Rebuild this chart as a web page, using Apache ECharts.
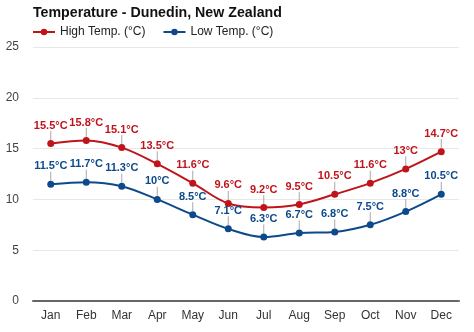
<!DOCTYPE html>
<html>
<head>
<meta charset="utf-8">
<script src="https://cdn.jsdelivr.net/npm/echarts@6/dist/echarts.min.js"></script>
<style>
  html, body { margin: 0; padding: 0; background: #fff; }
  #chart { width: 474px; height: 332px; }
</style>
</head>
<body>
<div id="chart"></div>
<script>
const months = ['Jan', 'Feb', 'Mar', 'Apr', 'May', 'Jun', 'Jul', 'Aug', 'Sep', 'Oct', 'Nov', 'Dec'];
const highTemps = [15.5, 15.8, 15.1, 13.5, 11.6, 9.6, 9.2, 9.5, 10.5, 11.6, 13, 14.7];
const lowTemps = [11.5, 11.7, 11.3, 10, 8.5, 7.1, 6.3, 6.7, 6.8, 7.5, 8.8, 10.5];
const yTicks = [0, 5, 10, 15, 20, 25];

const FONT = '"Liberation Sans", Arial, sans-serif';
// legend marker: a short line with a dot in the middle
const LEGEND_ICON = 'path://M0,3H24V5H0Z M15.5,4A3.5,3.5 0 1 1 8.5,4A3.5,3.5 0 1 1 15.5,4Z';

function tempSeries(name, values, color) {
  return {
    name: name,
    type: 'line',
    data: values,
    smooth: 0.35,
    symbol: 'circle',
    symbolSize: 7,
    lineStyle: { color: color, width: 2 },
    itemStyle: { color: color },
    label: {
      show: true,
      position: 'top',
      distance: 4,
      color: color,
      fontFamily: FONT,
      fontWeight: 'bold',
      fontSize: 11,
      formatter: p => p.value + '°C'
    },
    labelLayout: { dy: -5 },
    labelLine: { show: true, lineStyle: { color: '#a8a8a8', width: 1 } },
    emphasis: { disabled: true }
  };
}

const chart = echarts.init(document.getElementById('chart'), null, { renderer: 'canvas' });
chart.setOption({
  animation: false,
  backgroundColor: '#fff',
  title: {
    text: 'Temperature - Dunedin, New Zealand',
    left: 33,
    top: 6,
    padding: 0,
    textStyle: { fontFamily: FONT, fontWeight: 'bold', fontSize: 14.2, color: '#111' }
  },
  legend: {
    left: 33,
    top: 26,
    padding: 0,
    itemWidth: 22,
    itemHeight: 7,
    itemGap: 18,
    icon: LEGEND_ICON,
    textStyle: { fontFamily: FONT, fontSize: 12, color: '#222' },
    data: ['High Temp. (°C)', 'Low Temp. (°C)']
  },
  grid: { left: 33, right: 15, top: 47, bottom: 31 },
  xAxis: {
    type: 'category',
    data: months,
    boundaryGap: true,
    axisLine: { lineStyle: { color: '#666', width: 2 } },
    axisTick: { show: false },
    axisLabel: { fontFamily: FONT, fontSize: 12, color: '#333', margin: 9 }
  },
  yAxis: {
    type: 'value',
    min: yTicks[0],
    max: yTicks[yTicks.length - 1],
    interval: 5,
    axisLine: { show: false },
    axisTick: { show: false },
    axisLabel: { fontFamily: FONT, fontSize: 12, color: '#444', margin: 14 },
    splitLine: { lineStyle: { color: '#e8e8e8', width: 1 } }
  },
  series: [
    tempSeries('High Temp. (°C)', highTemps, '#c0141b'),
    tempSeries('Low Temp. (°C)', lowTemps, '#0d4a8b')
  ]
});
</script>
</body>
</html>
